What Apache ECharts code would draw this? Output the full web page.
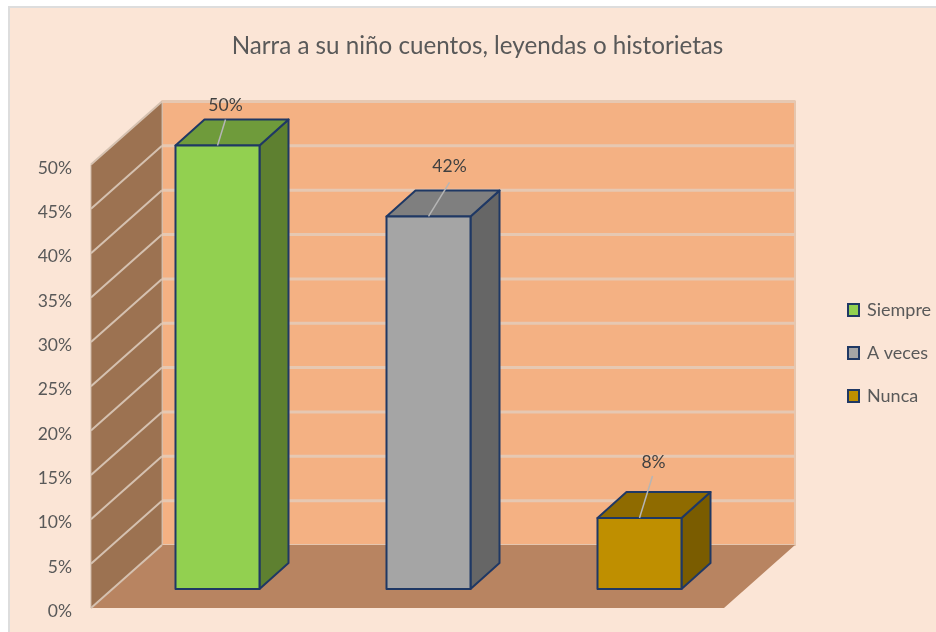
<!DOCTYPE html>
<html><head><meta charset="utf-8">
<style>html,body{margin:0;padding:0;background:#fff}#c{width:936px;height:632px}</style>
<script src="https://cdn.jsdelivr.net/npm/echarts@6/dist/echarts.min.js"></script>
</head><body><div id="c"></div>
<script>
const titleText = 'Narra a su niño cuentos, leyendas o historietas';
const categories = ['Siempre', 'A veces', 'Nunca'];
const valuesSiempre = [50];
const valuesAVeces = [42];
const valuesNunca = [8];
const seriesColors = {
  Siempre: {front:'#92D050', side:'#5E8030', top:'#6F9B3B'},
  'A veces': {front:'#A5A5A5', side:'#666666', top:'#7F7F7F'},
  Nunca: {front:'#BF8F00', side:'#7A5C00', top:'#8F6B00'}
};
const yTicks = [0,5,10,15,20,25,30,35,40,45,50];

const FONT = 'Lato';
const WALL_DX = 71, WALL_DY = -63;
const BAR_DX0 = 21, BAR_DY0 = -19, BAR_DX = 29, BAR_DY = -26, BAR_W = 84;
const NAVY = '#1F3864';
const leader = {
  Siempre:[8,-26,8,-40],
  'A veces':[21,-34,21,-50],
  Nunca:[13,-42,14,-56]
};

function renderWalls(params, api){
  const t = api.value(0);
  const p = api.coord([0, t]);
  const xEnd = params.coordSys.x + params.coordSys.width;
  const xStart = params.coordSys.x;
  const y = p[1];
  const children = [];
  if (t === 0) {
    const yTop = api.coord([0, 50])[1];
    children.push({type:'polygon', shape:{points:[[xStart+WALL_DX,yTop+WALL_DY],[xEnd+WALL_DX,yTop+WALL_DY],[xEnd+WALL_DX,y+WALL_DY],[xStart+WALL_DX,y+WALL_DY]]}, style:{fill:'#F4B183', stroke:'#E6C6AE', lineWidth:2}});
    children.push({type:'polygon', shape:{points:[[xStart,yTop],[xStart+WALL_DX,yTop+WALL_DY],[xStart+WALL_DX,y+WALL_DY],[xStart,y]]}, style:{fill:'#9C7251', stroke:'#C9B4A3', lineWidth:1}});
    children.push({type:'polygon', shape:{points:[[xStart,y],[xStart+WALL_DX,y+WALL_DY],[xEnd+WALL_DX,y+WALL_DY],[xEnd,y]]}, style:{fill:'#B88461'}});
    children.push({type:'line', shape:{x1:xStart,y1:y,x2:xStart+WALL_DX,y2:y+WALL_DY}, style:{stroke:'#D5C1B0', lineWidth:2}});
  } else {
    children.push({type:'line', shape:{x1:xStart,y1:y,x2:xStart+WALL_DX,y2:y+WALL_DY}, style:{stroke:'#D5C1B0', lineWidth:2}});
    children.push({type:'line', shape:{x1:xStart+WALL_DX,y1:y+WALL_DY,x2:xEnd+WALL_DX,y2:y+WALL_DY}, style:{stroke:'#E6C8B2', lineWidth:3}});
  }
  return {type:'group', children};
}

function renderBar(name){
  return function(params, api){
    const c = seriesColors[name];
    const p0 = api.coord([api.value(0), 0]);
    const p1 = api.coord([api.value(0), api.value(1)]);
    const xl = p0[0] + BAR_DX0 - BAR_W/2, xr = xl + BAR_W;
    const yb = p0[1] + BAR_DY0, yt = p1[1] + BAR_DY0;
    const border = {stroke:NAVY, lineWidth:2, lineJoin:'round'};
    const L = leader[name], cx = (xl+xr)/2;
    return {type:'group', children:[
      {type:'polygon', shape:{points:[[xr,yt],[xr+BAR_DX,yt+BAR_DY],[xr+BAR_DX,yb+BAR_DY],[xr,yb]]}, style:Object.assign({fill:c.side},border)},
      {type:'polygon', shape:{points:[[xl,yt],[xl+BAR_DX,yt+BAR_DY],[xr+BAR_DX,yt+BAR_DY],[xr,yt]]}, style:Object.assign({fill:c.top},border)},
      {type:'rect', shape:{x:xl,y:yt,width:BAR_W,height:yb-yt}, style:Object.assign({fill:c.front},border)},
      {type:'line', shape:{x1:cx,y1:yt,x2:cx+L[0],y2:yt+L[1]}, style:{stroke:'#B5B5B5', lineWidth:1.5}},
      {type:'text', x:cx+L[2], y:yt+L[3], style:{text:api.value(1)+'%', fill:'#404040', font:'17.5px '+FONT, align:'center', verticalAlign:'middle'}}
    ]};
  };
}

function barSeries(name, idx, vals){
  const c = seriesColors[name];
  return {type:'custom', name, coordinateSystem:'cartesian2d', z:3, clip:false,
    renderItem:renderBar(name),
    encode:{x:0,y:1},
    itemStyle:{color:c.front,borderColor:NAVY,borderWidth:2},
    data:vals.map(v=>[idx,v])};
}

const chart = echarts.init(document.getElementById('c'), null, {renderer:'canvas'});
chart.setOption({
  animation:false,
  backgroundColor:'#ffffff',
  textStyle:{fontFamily:FONT},
  graphic:[{type:'rect', z:-10, shape:{x:9,y:7,width:940,height:640}, style:{fill:'#FBE5D6', stroke:'#DDDDDD', lineWidth:2}}],
  title:{text:titleText, left:472.5, top:29, textAlign:'center', textStyle:{fontFamily:FONT, fontSize:24.2, fontWeight:'normal', color:'#595959'}},
  grid:[
    {left:91, top:164.5, width:633, height:443.5},
    {left:91, top:168, width:633, height:443.5}
  ],
  xAxis:[
    {type:'category', data:categories, show:false, gridIndex:0},
    {type:'category', data:categories, show:false, gridIndex:1}
  ],
  yAxis:[
    {type:'value', gridIndex:0, min:0, max:50, interval:5, show:false},
    {type:'value', gridIndex:1, min:0, max:50, interval:5,
      axisLine:{show:false}, axisTick:{show:false}, splitLine:{show:false},
      axisLabel:{formatter:'{value}%', color:'#595959', fontSize:17.5, fontFamily:FONT, margin:19}}
  ],
  legend:{orient:'vertical', left:847, top:301, padding:0, itemWidth:11, itemHeight:12, itemGap:25,
    data:categories, icon:'rect', selectedMode:false,
    textStyle:{color:'#595959', fontSize:18, fontFamily:FONT, padding:[0,0,0,3]}},
  series:[
    {type:'custom', name:'walls', coordinateSystem:'cartesian2d', z:1, clip:false, silent:true,
      renderItem:renderWalls, encode:{y:0}, data:yTicks.map(t=>[t])},
    barSeries('Siempre',0,valuesSiempre),
    barSeries('A veces',1,valuesAVeces),
    barSeries('Nunca',2,valuesNunca)
  ]
});
</script></body></html>
